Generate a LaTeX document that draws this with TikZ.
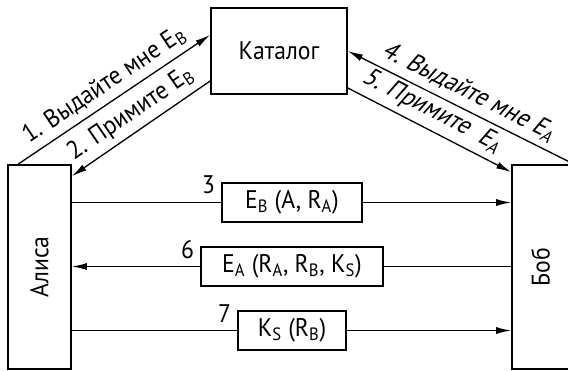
\documentclass[tikz,border=0pt]{standalone}
\usepackage{fontspec}
\setmainfont[FakeStretch=0.93]{PT Sans}
\usetikzlibrary{arrows.meta}
\tikzset{
box/.style={draw,line width=1pt,inner sep=0pt},
msg/.style={draw,line width=1pt,minimum height=0.78cm,inner sep=2pt},
flow/.style={line width=0.75pt}
}
\begin{document}
\begin{tikzpicture}[x=0.02cm,y=-0.02cm,>={Latex[length=0.3cm,width=0.14cm]},
every node/.append style={font=\fontsize{14.5}{17}\selectfont}]
\useasboundingbox (0,0) rectangle (568,370);
\node[box,minimum width=2.72cm,minimum height=1.72cm] (catalog) at (279,51) {Каталог};
\node[box,minimum width=1.26cm,minimum height=4.08cm] (alice) at (39.5,267) {};
\node[rotate=90] (alicetext) at (alice) {Алиса};
\node[box,minimum width=1.14cm,minimum height=4.08cm] (bob) at (540.5,267) {};
\node[rotate=90] (bobtext) at (bob) {Боб};
\foreach \y/\w/\num/\txt in {202.5/2.8/3/{E\textsubscript{B} (A, R\textsubscript{A})},266.5/3.64/6/{E\textsubscript{A} (R\textsubscript{A}, R\textsubscript{B}, K\textsubscript{S})},330.5/2.16/7/{K\textsubscript{S} (R\textsubscript{B})}}
{
\node[msg,minimum width=\w cm] (m\num) at (292,\y) {\txt};
\node[anchor=east] (n\num) at ([yshift=-0.06cm]m\num.north west) {\num};
}
\draw[flow,->] ([xshift=0.22cm]alice.north west) -- node[midway,above,sloped] {1. Выдайте мне E\textsubscript{B}} ([yshift=0.32cm]catalog.west);
\draw[flow,->] ([yshift=-0.6cm]catalog.west) -- node[midway,above,sloped] {2. Примите E\textsubscript{B}} ([yshift=-0.24cm]alice.north east);
\draw[flow,->] ([yshift=0.04cm]bob.north east) -- node[midway,above,sloped,xslant=0.25] {4. Выдайте мне E\textsubscript{A}} (catalog.east);
\draw[flow,->] ([yshift=-0.74cm]catalog.east) -- node[pos=0.45,above,sloped,xslant=0.25] {5. Примите\ \ E\textsubscript{A}} ([yshift=-0.16cm]bob.north west);
\draw[flow] (m3 -| alice.east) -- (m3);
\draw[flow,->] (m3) -- (m3 -| bob.west);
\draw[flow] (m6 -| bob.west) -- (m6);
\draw[flow,->] (m6) -- (m6 -| alice.east);
\draw[flow] (m7 -| alice.east) -- (m7);
\draw[flow,->] (m7) -- (m7 -| bob.west);
\end{tikzpicture}
\end{document}
